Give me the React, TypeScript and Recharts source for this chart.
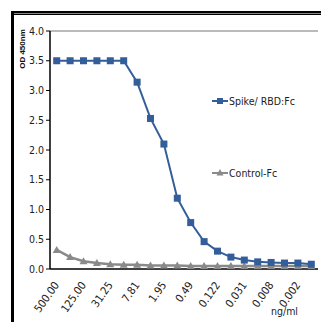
import React from "react";
import { LineChart, Line, XAxis, YAxis, Legend, ReferenceLine } from "recharts";

const DOSES = [
  "500.00", "250.00", "125.00", "62.50", "31.25", "15.63", "7.81", "3.91", "1.95", "0.98",
  "0.49", "0.244", "0.122", "0.061", "0.031", "0.015", "0.008", "0.004", "0.002", "0.001",
];
const SPIKE = [3.5, 3.5, 3.5, 3.5, 3.5, 3.5, 3.14, 2.53, 2.1, 1.19, 0.78, 0.46, 0.3, 0.2, 0.15, 0.12, 0.11, 0.1, 0.1, 0.08];
const CONTROL = [0.32, 0.2, 0.13, 0.1, 0.08, 0.07, 0.07, 0.06, 0.06, 0.06, 0.05, 0.05, 0.05, 0.05, 0.05, 0.05, 0.05, 0.05, 0.05, 0.05];
const Y_TICKS = [0, 0.5, 1, 1.5, 2, 2.5, 3, 3.5, 4];
const BOUNDS = Array.from({ length: DOSES.length + 1 }, (_, i) => i);

const BLUE = "#335E99";
const GREY = "#8A8A8A";
const NARROW = "'Liberation Sans Narrow', 'Arial Narrow', 'DejaVu Sans Condensed', 'Liberation Sans', sans-serif";

const rows = DOSES.map((dose, i) => ({ dose, spike: SPIKE[i], control: CONTROL[i] }));

const Square = (props: any) => {
  const { cx, cy } = props;
  if (cx == null || cy == null) return null;
  return <rect x={cx - 3.5} y={cy - 3.5} width={7} height={7} fill={BLUE} />;
};

const Triangle = (props: any) => {
  const { cx, cy } = props;
  if (cx == null || cy == null) return null;
  return <path d={`M${cx},${cy - 4} L${cx + 4},${cy + 3} L${cx - 4},${cy + 3} Z`} fill={GREY} />;
};

const DoseTick = (props: any) => {
  const { x, y, payload } = props;
  return (
    <text
      x={x + 3}
      y={y + 8}
      transform={`rotate(-55 ${x + 3} ${y + 8})`}
      textAnchor="end"
      fontSize={11}
      fontFamily={NARROW}
      fill="#222"
    >
      {payload.value}
    </text>
  );
};

function LegendBox() {
  const item = (label: string, color: string, shape: "sq" | "tri", mt: number) => (
    <div style={{ display: "flex", alignItems: "center", marginTop: mt, height: 12 }}>
      <svg width={16} height={10}>
        <line x1={0} y1={5} x2={16} y2={5} stroke={color} strokeWidth={2} />
        {shape === "sq" ? (
          <rect x={5} y={2} width={6} height={6} fill={color} />
        ) : (
          <path d="M8,1 L11.5,7.5 L4.5,7.5 Z" fill={color} />
        )}
      </svg>
      <span style={{ fontFamily: NARROW, fontSize: 10.5, color: "#222", marginLeft: 1 }}>{label}</span>
    </div>
  );
  return (
    <div>
      {item("Spike/ RBD:Fc", BLUE, "sq", 0)}
      {item("Control-Fc", GREY, "tri", 60)}
    </div>
  );
}

export default function App() {
  return (
    <div style={{ position: "absolute", left: 0, top: 0, width: 321, height: 322, background: "#fff", overflow: "hidden" }}>
      <div style={{ position: "absolute", left: 0, top: 0 }}>
        <LineChart width={321} height={322} data={rows} margin={{ top: 31, right: 3, bottom: 0, left: 0 }}>
          {/* frame lines of the screenshot */}
          <rect x={11} y={11} width={310} height={2} fill="#000" />
          <rect x={11} y={13} width={310} height={1} fill="#888" />
          <rect x={11} y={14} width={310} height={1} fill="#000" />
          <rect x={11} y={11} width={3} height={311} fill="#000" />
          <XAxis
            xAxisId="bounds"
            type="number"
            domain={[0, DOSES.length]}
            ticks={BOUNDS}
            tick={false}
            tickSize={4}
            tickLine={{ stroke: "#000" }}
            axisLine={false}
            height={0}
          />
          <XAxis
            xAxisId="cat"
            dataKey="dose"
            scale="band"
            interval={1}
            tick={<DoseTick />}
            tickLine={false}
            axisLine={{ stroke: "#000", strokeWidth: 1.5 }}
            height={53}
            label={{
              content: (p: any) => {
                const vb = p.viewBox || { x: 50, y: 269, width: 268, height: 53 };
                return (
                  <text
                    x={vb.x + vb.width - 20}
                    y={vb.y + vb.height - 7}
                    textAnchor="end"
                    fontSize={10.5}
                    fontFamily={NARROW}
                    fill="#222"
                  >
                    ng/ml
                  </text>
                );
              },
            }}
          />
          <YAxis
            domain={[0, 4]}
            ticks={Y_TICKS}
            tickFormatter={(v: number) => v.toFixed(1)}
            width={50}
            tickSize={4}
            tickMargin={2}
            tick={{ fontSize: 10.5, fontFamily: NARROW, fill: "#222" }}
            axisLine={{ stroke: "#000", strokeWidth: 1.5 }}
            tickLine={{ stroke: "#000" }}
            label={{
              content: () => (
                <text
                  x={25}
                  y={49}
                  transform="rotate(-90 25 49)"
                  textAnchor="middle"
                  fontSize={8}
                  fontWeight="bold"
                  fontFamily="'Liberation Sans', Arial, sans-serif"
                  fill="#111"
                >
                  OD 450nm
                </text>
              ),
            }}
          />
          <ReferenceLine y={4} stroke="#777" strokeWidth={1} xAxisId="cat" />
          <ReferenceLine x={DOSES.length} xAxisId="bounds" stroke="#999" strokeWidth={2} />
          <Legend
            layout="horizontal"
            verticalAlign="middle"
            align="center"
            content={() => <LegendBox />}
            wrapperStyle={{ left: 212, top: 95, width: 100 }}
          />
          <Line
            xAxisId="cat"
            dataKey="control"
            name="Control-Fc"
            stroke={GREY}
            strokeWidth={2.5}
            dot={<Triangle />}
            isAnimationActive={false}
          />
          <Line
            xAxisId="cat"
            dataKey="spike"
            name="Spike/ RBD:Fc"
            stroke={BLUE}
            strokeWidth={2}
            dot={<Square />}
            isAnimationActive={false}
          />
        </LineChart>
      </div>
    </div>
  );
}
